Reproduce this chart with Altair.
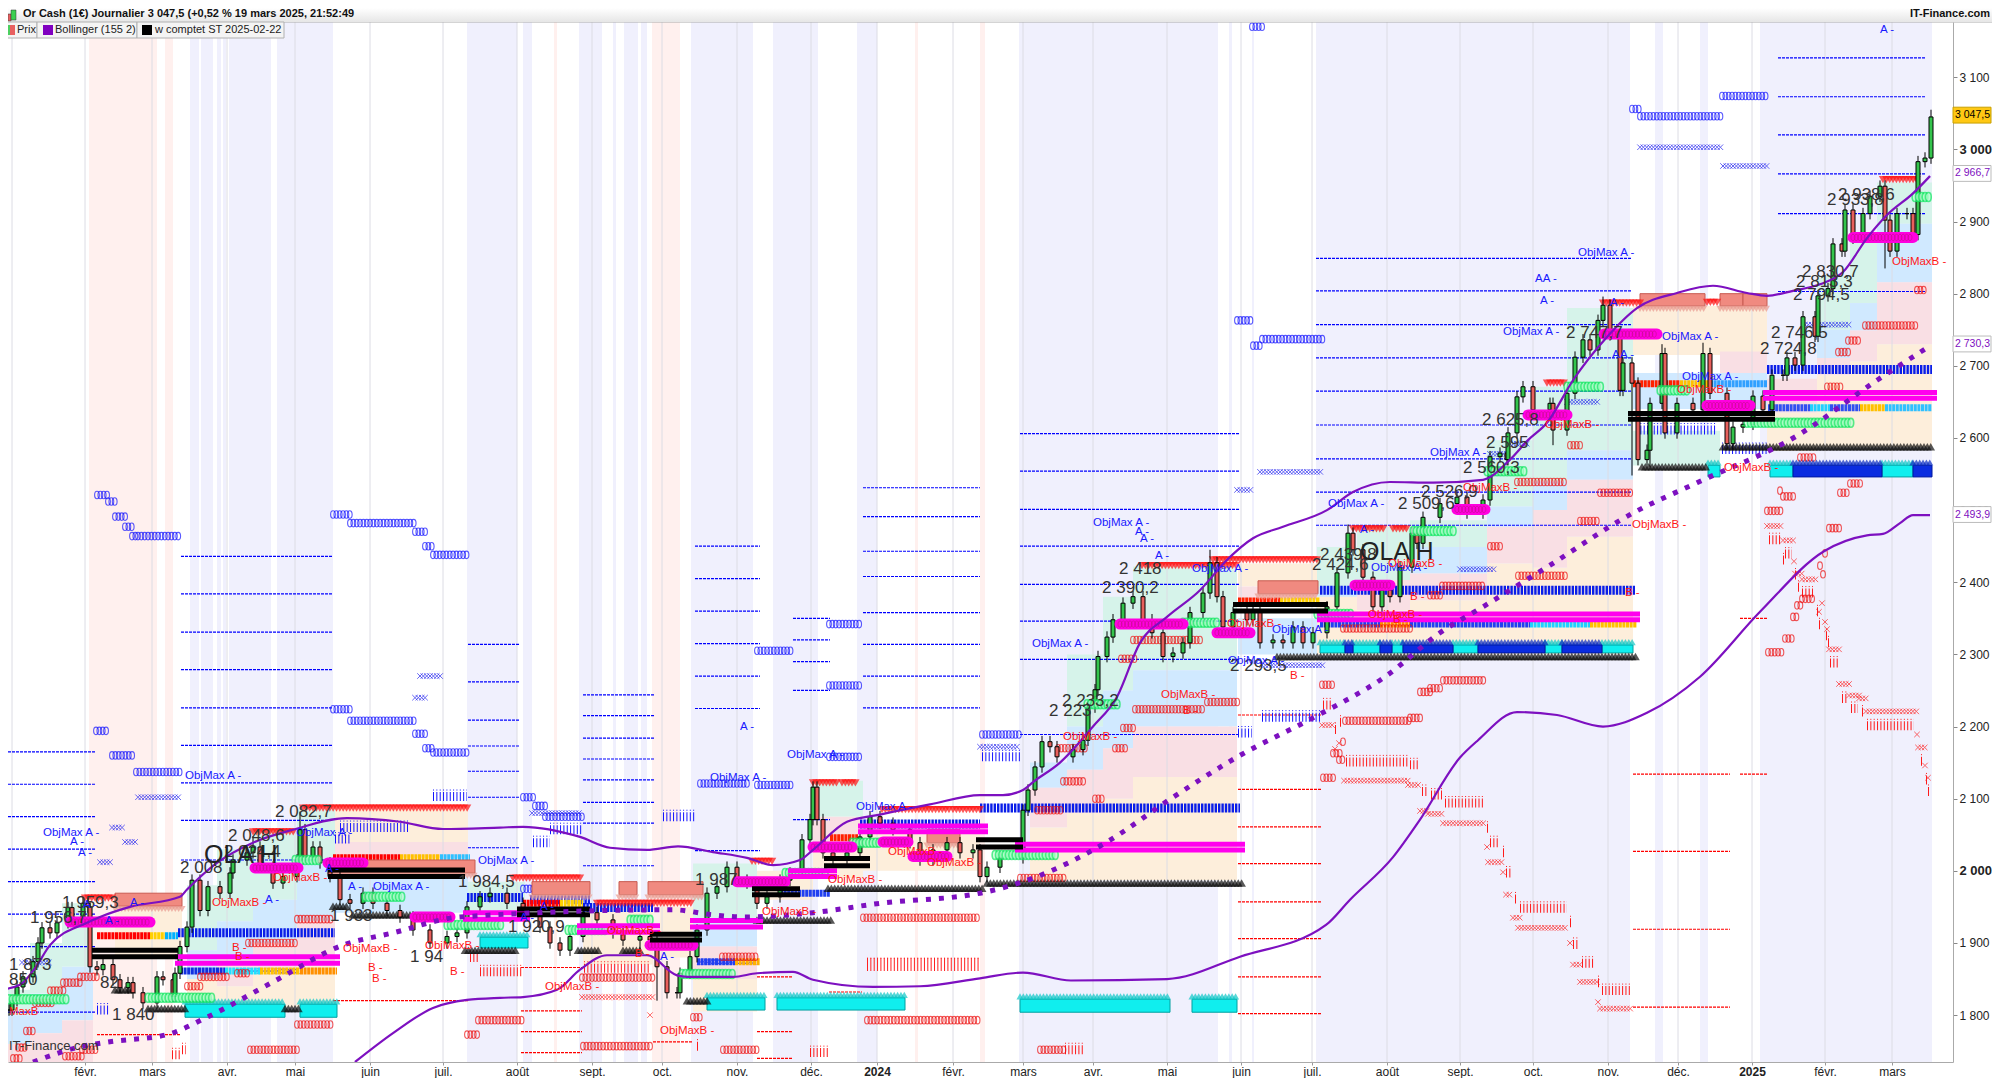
import altair as alt
import numpy as np
import pandas as pd

FONT = "Liberation Sans"
STEP = 3.35
W, H = 1945, 1040
XDOM, YDOM = [8, 1953], [1735, 3176.6]

TITRE = "Or Cash (1€) Journalier 3 047,5 (+0,52 % 19 mars 2025, 21:52:49"
MONTH_X = [85, 152, 227, 295, 370, 443, 517, 592, 662, 737, 811, 877, 953, 1023, 1093, 1167, 1241, 1312, 1387, 1460, 1533, 1608, 1678, 1752, 1825, 1892]
MONTH_L = ["févr.", "mars", "avr.", "mai", "juin", "juil.", "août", "sept.", "oct.", "nov.", "déc.", "2024", "févr.", "mars", "avr.", "mai", "juin", "juil.", "août", "sept.", "oct.", "nov.", "déc.", "2025", "févr.", "mars"]
Y_TICKS = [1800, 1900, 2000, 2100, 2200, 2300, 2400, 2500, 2600, 2700, 2800, 2900, 3000, 3100]

BANDS_LAV = [(190,199),(201,213),(217,221),(223,226),(229,271),(277,333),(467,517),(523,532),(579,602),(613,616),(624,638),(641,647),(691,753),(773,818),(857,877),(1019,1218),(1229,1232),(1252,1254),(1316,1630),(1655,1663),(1700,1708),(1760,1932)]
BANDS_PINK = [(89,157),(165,173),(554,557),(652,680),(915,918),(980,985)]

PASTEL = [
 (0,30,1835,1800,"g"),(0,30,1800,1760,"b"),(0,30,1760,1735,"p"),
 (30,62,1900,1830,"g"),(30,62,1830,1775,"b"),(30,62,1775,1735,"p"),
 (62,93,1955,1867,"g"),(62,93,1867,1793,"b"),(62,93,1793,1735,"p"),
 (115,182,1964,1880,"o"),
 (187,217,1980,1890,"g"),(187,217,1890,1850,"b"),(187,217,1850,1811,"o"),
 (217,253,2030,1930,"g"),(217,253,1930,1880,"b"),(217,253,1880,1840,"p"),(217,253,1840,1811,"o"),
 (253,297,2054,1960,"g"),(253,297,1960,1900,"b"),(253,297,1900,1860,"p"),(253,297,1860,1811,"o"),
 (297,335,2085,2010,"g"),(297,335,2010,1930,"b"),(297,335,1930,1870,"p"),(297,335,1870,1811,"o"),
 (335,468,2085,2040,"o"),(335,468,2040,2018,"p"),(335,468,1992,1942,"b"),
 (468,525,1985,1945,"g"),(583,653,1950,1870,"o"),(660,693,1950,1880,"o"),
 (693,757,2010,1935,"g"),(693,757,1935,1895,"b"),(693,757,1895,1850,"p"),(693,757,1850,1805,"o"),
 (757,813,2000,1960,"o"),(813,863,2125,2075,"g"),(813,863,2075,2040,"p"),(813,863,2040,1990,"o"),
 (863,980,2060,2000,"o"),
 (1030,1067,2150,2115,"b"),(1030,1067,2115,2060,"p"),(1030,1067,2060,1987,"o"),
 (1067,1103,2300,2200,"g"),(1067,1103,2200,2140,"b"),(1067,1103,2140,2080,"p"),(1067,1103,2080,1987,"o"),
 (1103,1133,2380,2250,"g"),(1103,1133,2250,2170,"b"),(1103,1133,2170,2100,"p"),(1103,1133,2100,1987,"o"),
 (1133,1237,2422,2278,"g"),(1133,1237,2278,2200,"b"),(1133,1237,2200,2130,"p"),(1133,1237,2130,1987,"o"),
 (1238,1317,2426,2394,"o"),(1238,1317,2394,2375,"p"),(1238,1317,2350,2300,"b"),
 (1317,1357,2449,2394,"g"),(1317,1357,2394,2360,"b"),(1317,1357,2380,2300,"o"),
 (1357,1410,2477,2403,"g"),(1357,1410,2403,2361,"p"),(1357,1410,2361,2300,"o"),
 (1410,1487,2486,2449,"g"),(1410,1487,2449,2412,"b"),(1410,1487,2412,2375,"p"),(1410,1487,2375,2300,"o"),
 (1487,1533,2597,2505,"g"),(1487,1533,2505,2477,"b"),(1487,1533,2477,2426,"p"),(1487,1533,2426,2300,"o"),
 (1533,1567,2671,2540,"g"),(1533,1567,2540,2500,"b"),(1533,1567,2500,2420,"p"),(1533,1567,2420,2300,"o"),
 (1567,1633,2780,2583,"g"),(1567,1633,2583,2542,"b"),(1567,1633,2542,2463,"p"),(1567,1633,2463,2300,"o"),
 (1633,1767,2783,2715,"o"),(1720,1767,2720,2690,"p"),(1633,1767,2690,2640,"b"),(1633,1720,2610,2562,"g"),
 (1767,1817,2682,2635,"p"),(1767,1817,2635,2582,"o"),
 (1817,1850,2825,2750,"g"),(1817,1850,2750,2711,"b"),(1817,1850,2711,2687,"p"),(1817,1850,2687,2587,"o"),
 (1850,1877,2883,2787,"g"),(1850,1877,2787,2749,"b"),(1850,1877,2749,2706,"p"),(1850,1877,2706,2587,"o"),
 (1877,1932,2954,2897,"g"),(1877,1932,2897,2816,"b"),(1877,1932,2816,2730,"p"),(1877,1932,2730,2587,"o"),
]

DASH_BLUE = [
 (0,95,[2165,2120,2075,2030,1985,1940,1895,1804]),
 (181,333,[2436,2384,2331,2279,2226,2174,2122,2070,2015]),
 (468,520,[2314,2262,2209,2173,2138,2102,2032]),
 (583,655,[2244,2215,2184,2155,2126,2095,2066,2007]),
 (695,760,[2450,2405,2360,2315,2270,2225,2028]),
 (793,830,[2350,2320,2290,2250,2071]),
 (863,980,[2531,2491,2443,2408,2358,2314,2270,2226]),
 (1020,1240,[2606,2554,2501,2450,2397,2346,2293,2189]),
 (1316,1632,[2849,2804,2757,2711,2665,2618,2571,2525,2479]),
 (1778,1925,[3127,3073,3020,2966,2911,2803]),
]
DASH_RED = [
 (97,180,[1773]),(333,468,[1820]),(521,582,[1866,1806,1777,1748]),(653,693,[1763]),
 (757,792,[1853,1777,1740]),(829,862,[1832]),(1238,1321,[2216,2113,2061,2010,1957,1906,1853,1802]),
 (1633,1730,[2134,2027,1919,1811]),(1740,1767,[2350,2134]),
]

BLUE_O = [(97,108,2521),(108,115,2512),(115,125,2491),(125,132,2477),(132,138,2464),(138,181,2464),
 (96,108,2194),(112,134,2160),(136,181,2137),
 (333,350,2494),(350,415,2482),(415,425,2470),(425,433,2450),(433,468,2438),
 (333,350,2224),(350,415,2208),(415,425,2190),(425,433,2170),(433,468,2164),
 (523,535,2102),(535,545,2090),(545,583,2075),(757,793,2119),(757,793,2305),(829,862,2342),(829,862,2158),(829,862,2257),
 (982,1020,2189),(1237,1253,2763),(1253,1262,2728),(1262,1323,2737),(1252,1262,3170),
 (1632,1640,3056),(1640,1723,3046),(1722,1768,3074),(523,583,1975),(700,750,2121)]
BLUE_X = [(138,181,2102),(112,125,2060),(125,135,2040),(100,112,2012),(420,440,2270),(415,425,2240),
 (1640,1723,3003),(1723,1768,2977),(1260,1323,2553),(1237,1253,2528),(980,1020,2172),
 (1490,1510,2578),(1567,1600,2650),(1805,1850,2757),(1090,1117,2231),(1510,1530,2592),
 (1460,1495,2418),(22,52,1873),(240,300,1861),(700,755,1874),(532,580,2080),(1262,1323,2285)]
BLUE_I = [(982,1020,2158),(1262,1322,2213),(1238,1252,2191),(1637,1717,2611),(1722,1767,2584),
 (340,410,2060),(433,467,2103),(97,110,1807),(335,350,2044),(663,695,2075),(550,582,2057),(533,550,2039)]
RED_I = [(584,650,1865),(480,522,1860),(470,478,1880),(172,180,1745),(182,186,1752),(697,700,1757),(810,830,1748),(1065,1085,1752),
 (1769,1782,2459),(1785,1792,2439),(1783,1784,2431),(1795,1796,2410),(1798,1799,2393),(1802,1813,2385),(1817,1818,2359),(1819,1820,2341),(1826,1827,2326),(1828,1829,2316),(1830,1839,2288),(1842,1848,2239),(1851,1858,2225),(1862,1865,2220),(1867,1914,2201),(1921,1923,2152),(1926,1927,2126),(1928,1929,2110),
 (1323,1333,2230),(1335,1336,2196),(1340,1341,2206),(1346,1408,2151),(1410,1418,2147),(1422,1427,2110),(1431,1442,2105),(1445,1483,2094),(1487,1488,2059),(1490,1500,2039),(1503,1504,2025),(1506,1511,1997),(1515,1516,1961),(1520,1567,1948),(1570,1571,1928),(1573,1578,1898),(1582,1595,1872),(1598,1599,1845),(1602,1632,1834)]
BLUE_HEAVY = [(178,335,1914),(467,523,1963),(583,653,1949),(860,980,2065),(980,1240,2087),(1320,1635,2389),(1767,1932,2695),(530,590,1960)]
MIX = [
 (97,150,1910,"#ff0000"),(150,165,1910,"#ffd000"),(165,178,1910,"#00b0ff"),
 (180,225,1861,"#1030e0"),(225,260,1861,"#20e0ff"),(260,300,1861,"#ffc000"),(300,337,1861,"#ff9000"),
 (333,400,2018,"#ff0000"),(400,440,2018,"#ffc000"),(440,470,2018,"#30c0ff"),
 (523,560,1955,"#ff0000"),(560,583,1955,"#ffd000"),
 (697,735,1874,"#2040f0"),(735,760,1874,"#ffb000"),
 (780,830,1969,"#2040f0"),(830,858,2046,"#ff2000"),(1238,1280,2374,"#ff2000"),(1280,1320,2374,"#ffd000"),
 (1320,1380,2342,"#2040f0"),(1380,1410,2342,"#ff9000"),(1410,1530,2342,"#2040f0"),(1530,1590,2342,"#20d0ff"),(1590,1637,2342,"#ffc000"),
 (1768,1810,2642,"#3050f0"),(1810,1830,2642,"#20d0ff"),(1830,1860,2642,"#3050f0"),(1860,1885,2642,"#ffc000"),(1885,1932,2642,"#30c0ff"),
 (1633,1680,2675,"#ff2000"),(1680,1710,2675,"#ffc000"),(1710,1767,2675,"#30a0ff"),
]
RED_TRI = [(85,115,1962),(253,295,2054),(303,468,2087),(513,583,1990),(597,693,1955),(752,775,2013),(813,838,2122),(842,858,2122),(882,950,2085),(953,980,2085),
 (1142,1237,2423),(1213,1318,2431),(1353,1385,2474),(1393,1407,2474),(1547,1567,2676),(1603,1643,2787),(1707,1720,2788),(1883,1917,2958)]
BLACK_TRI = [(1723,1932,2588),(1642,1707,2560),(1277,1637,2297),(987,1242,1983),(333,348,1951),(353,413,1939),(465,518,1890),(578,600,1890),(623,640,1890),(687,707,1820),(757,833,1932),(828,985,1976),(115,133,1835),(148,185,1809),(285,300,1809)]
SALMON = [(1640,1705,2800,2783),(1720,1743,2800,2783),(1743,1767,2800,2783),(115,182,1969,1951),(330,475,2015,1997),(532,590,1985,1967),(619,637,1985,1967),(648,703,1985,1967),(1258,1318,2402,2384),(927,960,2057,2039)]
CYAN = [(185,285,1815,1797),(300,337,1815,1797),(480,528,1908,1893),(707,765,1824,1807),(777,905,1824,1807),(1020,1170,1822,1804),(1192,1237,1822,1804),
 (1320,1345,2313,2302),(1353,1380,2313,2302),(1392,1403,2313,2302),(1453,1478,2313,2302),(1545,1562,2313,2302),(1602,1633,2313,2302),
 (1770,1793,2562,2546),(1882,1913,2562,2546),(1708,1720,2562,2546)]
ROYAL = [(1345,1353,2313,2302),(1380,1392,2313,2302),(1403,1453,2313,2302),(1478,1545,2313,2302),(1562,1602,2313,2302),(1793,1882,2562,2546),(1913,1932,2562,2546)]
BLACK_LINE = [(92,178,1890),(92,178,1881),(328,465,2001),(328,465,1992),(517,590,1947),(517,590,1939),(650,702,1912),(650,702,1904),(752,800,1975),(752,800,1967),(824,870,2017),(824,870,2007),(976,1023,2043),(976,1023,2033),(1233,1328,2369),(1233,1328,2360),(1628,1775,2634),(1628,1775,2626)]
MAGENTA_LINE = [(175,340,1881),(175,340,1872),(463,530,1942),(463,530,1933),(577,660,1924),(577,660,1915),(690,763,1931),(690,763,1922),(788,837,2000),(788,837,1992),(858,988,2062),(858,988,2054),(1015,1245,2037),(1015,1245,2029),(1317,1640,2356),(1317,1640,2348),(1763,1937,2663),(1763,1937,2655)]
MAGENTA_PILL = [(70,150,1929),(255,298,2004),(328,363,2011),(415,450,1936),(650,693,1897),(737,785,1985),(813,852,2033),(913,947,2020),(883,908,2040),(1120,1183,2342),(1217,1250,2330),(1355,1390,2396),(1457,1485,2501),(1528,1567,2632),(1604,1657,2744),(1707,1750,2645),(1853,1913,2878)]
GREEN_PILL = [(9,68,1822),(148,212,1824),(295,320,2015),(365,402,1964),(447,503,1925),(568,605,1918),(630,652,1932),(682,735,1857),(785,827,1997),(852,880,2039),(1087,1118,2231),(1183,1217,2344),(995,1057,2022),(1317,1353,2356),(1413,1455,2471),(1487,1527,2554),(1567,1603,2671),(1660,1687,2666),(1747,1852,2621),(1915,1930,2934)]
RED_O = [(63,82,1845),(50,65,1834),(35,52,1817),(80,97,1853),(26,35,1778),(18,26,1755),(13,20,1740),(65,82,1743),(82,97,1752),(200,230,1853),(187,202,1840),(237,247,1858),(248,297,1900),(297,333,1933),(250,297,1752),(297,333,1787),(467,480,1773),(478,522,1793),(582,653,1852),(583,653,1757),(693,702,1797),(723,757,1752),(722,757,1881),(863,980,1935),(867,980,1793),(1135,1203,2224),(1207,1238,2234),(1133,1202,2320),(1063,1085,2124),(1058,1085,2170),(1123,1135,2198),(1115,1125,2170),(1095,1102,2100),(1037,1063,2084),(1020,1065,1990),(1121,1135,2294),(1322,1335,2258),(1345,1410,2208),(1410,1420,2212),(1323,1335,2129),(1333,1340,2163),(1339,1345,2154),(1443,1485,2264),(1430,1443,2253),(1420,1430,2248),(1343,1410,2336),(1442,1485,2395),(1518,1567,2409),(1430,1443,2382),(1517,1567,2539),(1580,1597,2485),(1600,1633,2524),(1490,1502,2450),(1570,1580,2590),(1865,1917,2756),(1838,1848,2719),(1848,1860,2735),(1827,1842,2671),(1800,1815,2573),(1917,1925,2805),(1850,1860,2537),(1840,1849,2524),(1767,1783,2499),(1829,1842,2475),(1783,1793,2519),(1780,1783,2527),
 (1802,1815,2377),(1797,1802,2368),(1793,1797,2352),(1785,1793,2322),(1768,1783,2303),(1825,1828,2440),(1820,1821,2423),(1823,1824,2411),(1040,1065,1752),(1343,1344,2179)]
RED_X = [(582,653,1825),(1767,1783,2478),(1783,1793,2458),(1794,1795,2429),(1795,1802,2412),(1802,1818,2404),(1822,1823,2371),(1819,1820,2359),(1825,1826,2345),(1827,1828,2335),(1829,1842,2307),(1839,1849,2259),(1849,1859,2243),(1859,1867,2239),(1866,1917,2221),(1917,1918,2189),(1918,1925,2171),(1925,1926,2146),(1928,1929,2129),
 (1322,1335,2202),(1339,1340,2177),(1335,1336,2169),(1344,1408,2125),(1408,1420,2119),(1420,1428,2083),(1428,1443,2079),(1443,1485,2066),(1487,1488,2033),(1488,1502,2012),(1503,1504,1998),(1506,1512,1967),(1513,1520,1935),(1518,1567,1921),(1570,1571,1900),(1573,1580,1870),(1580,1597,1846),(1598,1599,1818),(1600,1633,1809),(650,653,1800)]
RED_DENSE_I = [(867,980,1870)]

CLOSE_X = [9,12,17,23,33,38,42,50,57,68,72,83,88,90,97,103,113,120,128,133,143,157,163,173,175,180,187,192,200,208,220,230,233,247,253,260,273,283,297,300,305,313,320,330,340,350,363,373,387,400,413,430,447,457,467,480,490,507,523,540,550,560,570,583,597,613,623,640,650,657,667,677,680,690,697,707,717,727,737,747,757,767,780,790,802,810,813,817,823,833,847,860,870,880,893,910,920,933,947,960,973,980,987,1000,1023,1028,1035,1042,1050,1057,1073,1083,1088,1095,1098,1107,1113,1123,1133,1143,1152,1163,1173,1183,1190,1203,1210,1217,1223,1233,1247,1253,1260,1273,1283,1293,1303,1313,1327,1337,1348,1353,1363,1373,1382,1390,1400,1412,1417,1423,1440,1457,1467,1483,1490,1500,1507,1508,1517,1523,1533,1550,1553,1567,1575,1583,1590,1598,1603,1610,1620,1623,1632,1638,1647,1650,1662,1665,1677,1693,1703,1710,1727,1733,1743,1753,1763,1772,1783,1787,1795,1803,1815,1818,1828,1833,1842,1845,1853,1863,1870,1880,1885,1890,1897,1907,1913,1918,1925,1931]
CLOSE_P = [1807,1820,1839,1853,1874,1900,1921,1914,1928,1949,1932,1955,1950,1867,1863,1870,1849,1838,1845,1831,1817,1853,1849,1826,1858,1895,1922,1987,1945,1978,1969,1997,2015,2025,2033,2005,1983,1992,2015,2057,2019,2033,2011,1992,1960,1955,1969,1955,1945,1936,1918,1900,1909,1914,1950,1964,1969,1955,1943,1922,1900,1890,1909,1942,1932,1914,1904,1909,1904,1867,1831,1831,1858,1881,1918,1969,1978,2005,1987,1983,1955,1964,1987,1997,2043,2071,2116,2071,2025,2015,2025,2047,2075,2066,2057,2039,2015,2029,2039,2025,2029,1992,2005,2018,2084,2112,2144,2179,2172,2158,2168,2181,2227,2251,2297,2324,2348,2371,2380,2348,2330,2297,2302,2316,2358,2385,2427,2380,2338,2358,2348,2362,2316,2320,2316,2338,2316,2330,2366,2413,2468,2445,2407,2366,2389,2380,2421,2468,2454,2490,2509,2518,2496,2514,2574,2579,2570,2607,2657,2671,2639,2648,2611,2662,2712,2736,2722,2763,2784,2743,2666,2704,2676,2570,2583,2648,2717,2607,2648,2639,2717,2662,2592,2615,2619,2658,2639,2687,2687,2711,2701,2768,2741,2797,2807,2869,2859,2916,2877,2911,2935,2949,2902,2859,2911,2911,2882,2983,2988,3045]
MECHE = 8
WICK_HI = {300:2082, 253:2048, 1210:2445, 1348:2480, 1662:2730, 1603:2796, 1931:3055, 1703:2732}
WICK_LO = {1632:2548, 1885:2835, 1650:2560, 1553:2590, 640:1890, 657:1820}

BOLL_UP_X = [0,20,35,50,87,100,130,180,187,217,253,293,347,400,443,500,523,580,610,647,678,713,747,773,800,813,847,880,930,980,1003,1023,1033,1060,1093,1117,1140,1167,1200,1227,1253,1283,1327,1353,1390,1433,1483,1510,1528,1547,1573,1607,1637,1677,1713,1747,1767,1793,1820,1843,1867,1887,1913,1930]
BOLL_UP_P = [1835,1842,1865,1897,1928,1936,1950,1964,1974,2011,2039,2057,2073,2068,2058,2060,2061,2047,2032,2029,2034,2026,2018,2008,2015,2029,2068,2078,2092,2105,2105,2112,2123,2150,2200,2241,2316,2352,2389,2431,2461,2477,2500,2525,2539,2538,2542,2570,2597,2621,2680,2740,2780,2801,2811,2801,2797,2804,2813,2830,2877,2909,2939,2963]
BOLL_LO_X = [355,393,433,467,500,523,557,580,607,647,677,687,733,757,793,813,873,920,980,1023,1071,1167,1240,1326,1350,1393,1420,1460,1478,1517,1557,1603,1647,1700,1760,1824,1867,1883,1900,1913,1930]
BOLL_LO_P = [1735,1775,1810,1821,1824,1825,1835,1863,1883,1883,1855,1853,1853,1858,1860,1849,1839,1840,1851,1859,1848,1850,1881,1925,1960,2019,2071,2157,2181,2220,2216,2200,2219,2269,2359,2443,2465,2467,2482,2493,2493]
BOLL_MID_X = [33,80,110,167,207,273,343,393,460,673,713,743,813,880,980,1037,1107,1173,1240,1313,1387,1440,1483,1547,1633,1697,1797,1877,1927]
BOLL_MID_P = [1735,1756,1763,1773,1797,1846,1897,1914,1936,1946,1939,1936,1942,1955,1969,1992,2040,2102,2160,2212,2271,2330,2366,2421,2496,2538,2603,2680,2725]

PRICE_T = [(9,1870,"1 873"),(9,1849,"850"),(62,1955,"1 959,3"),(30,1935,"1 956,7"),(180,2004,"2 008"),(228,2048,"2 048,6"),(224,2026,"2 024,4"),(275,2082,"2 082,7"),(330,1937,"1 933"),(458,1984,"1 984,5"),(508,1922,"1 920,9"),(695,1987,"1 987"),(100,1845,"82"),(112,1800,"1 840"),(410,1880,"1 94"),
 (1102,2392,"2 390,2"),(1119,2418,"2 418"),(1049,2222,"2 223"),(1062,2236,"2 233,2"),(1320,2438,"2 439,8"),(1312,2424,"2 424,6"),(1230,2284,"2 293,5"),(1398,2509,"2 509,6"),(1421,2525,"2 526,9"),(1463,2559,"2 560,3"),(1486,2593,"2 595"),(1482,2625,"2 625,8"),(1566,2745,"2 747,7"),(1760,2724,"2 724,8"),(1771,2745,"2 746,5"),(1793,2798,"2 794,5"),(1796,2816,"2 813,3"),(1802,2830,"2 830,7"),(1827,2930,"2 933,8"),(1838,2937,"2 938,6")]
BIG_T = [(204,2022,"OLA H"),(1360,2442,"OLA H")]
BLUE_T = [(43,2053,"ObjMax A -"),(185,2132,"ObjMax A -"),(296,2053,"ObjMax A -"),(373,1978,"ObjMax A -"),(478,2013,"ObjMax A -"),(710,2128,"ObjMax A -"),(787,2160,"ObjMax A -"),(856,2088,"ObjMax A -"),(1032,2314,"ObjMax A -"),(1093,2482,"ObjMax A -"),(1192,2419,"ObjMax A -"),(1228,2291,"ObjMax A -"),(1272,2334,"ObjMax A -"),(1328,2509,"ObjMax A -"),(1371,2420,"ObjMax A -"),(1430,2579,"ObjMax A -"),(1503,2747,"ObjMax A -"),(1578,2856,"ObjMax A -"),(1662,2740,"ObjMax A -"),(1682,2685,"ObjMax A -"),
 (70,2040,"A -"),(78,2025,"A -"),(83,1952,"A -"),(105,1930,"A -"),(130,1955,"A -"),(265,1960,"A -"),(325,2002,"A -"),(348,1978,"A -"),(520,1935,"A -"),(540,1950,"A -"),(660,1880,"A -"),(740,2200,"A -"),(1135,2470,"A -"),(1140,2460,"A -"),(1155,2437,"A -"),(1360,2472,"A -"),(1535,2821,"AA -"),(1540,2790,"A -"),(1620,2715,"A -"),(1610,2787,"A -"),(1880,3165,"A -"),(1612,2715,"A -")]
RED_T = [(212,1955,"ObjMaxB -"),(273,1990,"ObjMaxB -"),(343,1892,"ObjMaxB -"),(425,1896,"ObjMaxB -"),(545,1839,"ObjMaxB -"),(660,1778,"ObjMaxB -"),(607,1917,"ObjMaxB -"),(762,1943,"ObjMaxB -"),(828,1987,"ObjMaxB -"),(888,2026,"ObjMaxB -"),(927,2011,"ObjMaxB -"),(1063,2185,"ObjMaxB -"),(1161,2244,"ObjMaxB -"),(1227,2342,"ObjMaxB -"),(1368,2355,"ObjMaxB -"),(1388,2425,"ObjMaxB -"),(1463,2530,"ObjMaxB -"),(1632,2480,"ObjMaxB -"),(1892,2844,"ObjMaxB -"),(1545,2618,"ObjMaxB -"),(1677,2666,"ObjMaxB -"),(1724,2558,"ObjMaxB -"),(9,1805,"MaxB"),
 (232,1893,"B -"),(235,1880,"B -"),(368,1865,"B -"),(372,1850,"B -"),(450,1860,"B -"),(635,1885,"B -"),(1183,2222,"B -"),(1290,2270,"B -"),(1410,2380,"B -"),(1393,2347,"B -"),(1625,2385,"B -")]
OUT_BOX = [(2966.7,"2 966,7"),(2730.3,"2 730,3"),(2493.9,"2 493,9")]


def seg(rows, names):
    return pd.DataFrame(rows, columns=names)

SX = alt.Scale(domain=XDOM, nice=False, zero=False, padding=0)
SY = alt.Scale(domain=YDOM, nice=False, zero=False, padding=0)
lab = "{" + ",".join(f"'{x}':'{l}'" for x, l in zip(MONTH_X, MONTH_L)) + "}[datum.value]"
x_axis = alt.Axis(values=MONTH_X, labelExpr=lab, title=None, grid=False, orient="bottom", tickColor="#999999", tickSize=3,
                  domainColor="#aaaaaa", labelFont=FONT, labelFontSize=12, labelColor="#222222", labelPadding=1,
                  labelFontWeight=alt.expr("datum.value==877||datum.value==1752?'bold':'normal'"), labelOverlap=False)
y_axis = alt.Axis(values=Y_TICKS, orient="right", title=None, grid=False, tickColor="#888888", tickSize=4, domainColor="#aaaaaa",
                  labelFont=FONT, labelFontSize=alt.expr("datum.value%1000==0?13:12"), labelColor="#222222", labelPadding=2,
                  labelFontWeight=alt.expr("datum.value%1000==0?'bold':'normal'"), labelOverlap=False,
                  labelExpr="replace(format(datum.value,','),',',' ')")
X = alt.X("x:Q", scale=SX, axis=x_axis)
X2 = alt.X2("x2:Q")
Y = alt.Y("y:Q", scale=SY, axis=y_axis)
Y2 = alt.Y2("y2:Q")

def band_layer(rows, color):
    return alt.Chart(seg(rows, ["x", "x2"])).mark_rect(color=color).encode(x=X, x2=X2)

def rects(rows, **kw):
    return alt.Chart(seg(rows, ["x", "x2", "y", "y2"])).mark_rect(**kw).encode(x=X, x2=X2, y=Y, y2=Y2)

def hrule(rows, **kw):
    return alt.Chart(seg(rows, ["x", "x2", "y"])).mark_rule(clip=True, **kw).encode(x=X, x2=X2, y=Y)

def levels(rows):
    return [(a, b, p) for a, b, ps in rows for p in ps]

def dots(rows, **kw):
    xs, ys = [], []
    for a, b, p in rows:
        for v in np.arange(a, b + 0.1, STEP):
            xs.append(float(v)); ys.append(p)
    return alt.Chart(pd.DataFrame({"x": xs, "y": ys})).mark_point(clip=True, **kw).encode(x=X, y=Y)

def irow(rows, color, ht=9):
    tall = hrule([(a, max(b, a + 1.4), p) for a, b, p in rows], color=color, strokeWidth=ht, strokeDash=[1, 2.35])
    top = hrule([(a, max(b, a + 1.4), p + 9) for a, b, p in rows], color=color, strokeWidth=1, strokeDash=[1, 2.35])
    return [tall, top]

def texts(rows, **kw):
    return alt.Chart(seg(rows, ["x", "y", "t"])).mark_text(align="left", baseline="middle", font=FONT, **kw).encode(x=X, y=Y, text="t:N")

def path(xs, ps, **kw):
    return alt.Chart(pd.DataFrame({"x": xs, "y": ps})).mark_line(clip=True, **kw).encode(x=X, y=Y)

ONE = pd.DataFrame({"a": [0]})
def box(x1, x2, y1, y2, **kw):
    return alt.Chart(ONE).mark_rect(**kw).encode(x=alt.value(x1), x2=alt.value(x2), y=alt.value(y1), y2=alt.value(y2))
def label(x, y, t, **kw):
    kw.setdefault("font", FONT); kw.setdefault("align", "left"); kw.setdefault("baseline", "middle")
    return alt.Chart(ONE).mark_text(text=t, **kw).encode(x=alt.value(x), y=alt.value(y))

opens = [CLOSE_P[0]] + CLOSE_P[:-1]
cd = pd.DataFrame({"x": CLOSE_X, "o": opens, "c": CLOSE_P})
cd["y"] = [WICK_HI.get(x, max(o, c) + MECHE) for x, o, c in zip(cd.x, cd.o, cd.c)]
cd["y2"] = [WICK_LO.get(x, min(o, c) - MECHE) for x, o, c in zip(cd.x, cd.o, cd.c)]
cd["col"] = np.where(cd.c >= cd.o, "#34c44c", "#e8605c")
wick = alt.Chart(cd).mark_rule(color="#000000", strokeWidth=1, clip=True).encode(x=X, y=Y, y2=Y2)
body = alt.Chart(cd).mark_bar(size=4, stroke="#000000", strokeWidth=1, clip=True).encode(
    x=X, y=alt.Y("o:Q", scale=SY, axis=y_axis), y2=alt.Y2("c:Q"), color=alt.Color("col:N", scale=None))

PALETTE = {"g": "#d6f3ea", "b": "#d0e9ff", "p": "#f9dfe4", "o": "#fdeedb"}
pastel_df = seg(PASTEL, ["x", "x2", "y", "y2", "k"])
pastel_df["col"] = pastel_df.k.map(PALETTE)
pastel = alt.Chart(pastel_df).mark_rect(clip=True).encode(x=X, x2=X2, y=Y, y2=Y2, color=alt.Color("col:N", scale=None))

grid = alt.Chart(pd.DataFrame({"x": [12] + MONTH_X})).mark_rule(color="#dcdce4", strokeWidth=1).encode(x=X)

SH_X = "M-1,-1L1,1M-1,1L1,-1"
SH_O = "M0,-1C0.85,-1 0.85,1 0,1C-0.85,1 -0.85,-1 0,-1Z"
LIGHT = alt.LinearGradient(gradient="linear", x1=0, x2=0, y1=0, y2=1,
                           stops=[alt.GradientStop(offset=0, color="#ffffff"), alt.GradientStop(offset=1, color="#e6e6e6")])

layers = [
    band_layer(BANDS_LAV, "#f0f0fd"), band_layer(BANDS_PINK, "#fff0ee"),
    pastel, grid,
    hrule(levels(DASH_BLUE), color="#0000ff", strokeWidth=1.2, strokeDash=[3, 1]),
    hrule(levels(DASH_RED), color="#ff0000", strokeWidth=1.2, strokeDash=[3, 1]),
    dots(BLUE_O, shape=SH_O, size=56, color="#1414ff", strokeWidth=1.1),
    dots(BLUE_X, shape=SH_X, size=30, color="#2424f0", strokeWidth=1),
    *irow(BLUE_I, "#1414ff"), *irow(RED_I, "#ff1a1a"),
    hrule(BLUE_HEAVY, color="#0a1ee8", strokeWidth=9, strokeDash=[2.4, 1]),
    alt.Chart(seg(MIX, ["x", "x2", "y", "col"])).mark_rule(clip=True, strokeWidth=7, strokeDash=[3, 0.6]).encode(x=X, x2=X2, y=Y, color=alt.Color("col:N", scale=None)),
    dots(RED_O, shape=SH_O, size=56, color="#ee1111", strokeWidth=1.1),
    dots(RED_X, shape=SH_X, size=30, color="#ff2222", strokeWidth=1),
    *irow(RED_DENSE_I, "#ff2020", 13),
    rects(SALMON, fill="#f08a80", stroke="#c85a50", strokeWidth=1, clip=True),
    dots([(a, b, d - 4) for a, b, c, d in SALMON], shape="triangle-down", size=50, filled=True, color="#e89a90"),
    rects(CYAN, fill="#10eeee", stroke="#00a0a0", strokeWidth=1, clip=True),
    dots([(a, b, c + 4) for a, b, c, d in CYAN], shape="triangle-up", size=50, filled=True, color="#10c8c8"),
    rects(ROYAL, fill="#0a2ce0", stroke="#0018a0", strokeWidth=1, clip=True),
    dots([(a, b, c + 4) for a, b, c, d in ROYAL], shape="triangle-up", size=50, filled=True, color="#0a2cc0"),
    dots(RED_TRI, shape="triangle-down", size=70, filled=True, color="#ff1010"),
    dots(BLACK_TRI, shape="triangle-up", size=75, filled=True, color="#111111"),
    wick, body,
    dots(GREEN_PILL, shape=SH_O, size=80, filled=True, fill="#b8ffd0", stroke="#10e860", strokeWidth=1.6),
    hrule(MAGENTA_PILL, color="#ff00e0", strokeWidth=11, strokeCap="round"),
    dots(MAGENTA_PILL, shape=SH_O, size=40, color="#c01080", strokeWidth=0.8),
    hrule(MAGENTA_LINE, color="#ff00ee", strokeWidth=5),
    hrule(BLACK_LINE, color="#000000", strokeWidth=5),
    path(BOLL_UP_X, BOLL_UP_P, color="#7d10c0", strokeWidth=2.2, interpolate="monotone"),
    path(BOLL_LO_X, BOLL_LO_P, color="#7d10c0", strokeWidth=2.2, interpolate="monotone"),
    path(BOLL_MID_X, BOLL_MID_P, color="#7d10c0", strokeWidth=5, strokeDash=[5, 8], interpolate="monotone"),
    texts(PRICE_T, fontSize=17, color="#333333"),
    texts(BIG_T, fontSize=25, color="#222222"),
    texts(BLUE_T, fontSize=11.5, color="#1818ff"),
    texts(RED_T, fontSize=11.5, color="#ff1818"),
    box(-8, 1984, -14, 0, fill=LIGHT),
    box(-8, 1984, 0, 0.5, fill="#aaaaaa"),
    box(0, 3, -8, -1, fill="#e86060", stroke="#333333", strokeWidth=0.5),
    box(3, 8, -12, -2, fill="#3cd050", stroke="#333333", strokeWidth=0.5),
    label(15, -8, TITRE, fontSize=11, fontWeight="bold", color="#111111"),
    label(1982, -8, "IT-Finance.com", fontSize=11, fontWeight="bold", color="#111111", align="right"),
    box(-8, 29, 0, 16, fill="#f4f4f4", stroke="#b0b0b0"),
    box(29, 129, 0, 16, fill="#f4f4f4", stroke="#b0b0b0"),
    box(129, 276, 0, 16, fill="#f4f4f4", stroke="#b0b0b0"),
    box(-3, 2, 3, 13, fill="#4cd060"), box(2, 7, 3, 13, fill="#e86060"),
    box(35, 45, 3, 13, fill="#8000c0"), box(134, 144, 3, 13, fill="#000000"),
    label(9, 8, "Prix", fontSize=11, color="#222222"),
    label(47, 8, "Bollinger (155 2)", fontSize=11, color="#222222"),
    label(147, 8, "w comptet ST 2025-02-22", fontSize=11, color="#222222"),
    label(1, 1024, "IT-Finance.com", fontSize=13, color="#333333"),
]
for p, t in OUT_BOX:
    df = pd.DataFrame({"y": [p + 11], "y2": [p - 11]})
    layers.append(alt.Chart(df).mark_rect(fill="#ffffff", stroke="#bbbbbb").encode(x=alt.value(1945), x2=alt.value(1983), y=Y, y2=Y2))
    layers.append(alt.Chart(pd.DataFrame({"y": [p]})).mark_text(text=t, font=FONT, fontSize=10.5, color="#8010c0", align="left", baseline="middle").encode(x=alt.value(1947), y=Y))
df = pd.DataFrame({"y": [3047.5 + 11], "y2": [3047.5 - 11]})
layers.append(alt.Chart(df).mark_rect(fill="#ffc814", stroke="#c8a000").encode(x=alt.value(1945), x2=alt.value(1983), y=Y, y2=Y2))
layers.append(alt.Chart(pd.DataFrame({"y": [3047.5]})).mark_text(text="3 047,5", font=FONT, fontSize=10.5, color="#000000", align="left", baseline="middle").encode(x=alt.value(1947), y=Y))

chart = alt.layer(*layers).properties(
    width=W, height=H,
    padding={"left": 0, "top": 14, "right": 39, "bottom": 16},
    autosize=alt.AutoSizeParams(type="none"),
    background="#ffffff",
).configure_view(stroke=None)

chart.save("out.html", embed_options={"renderer": "svg", "actions": False})
